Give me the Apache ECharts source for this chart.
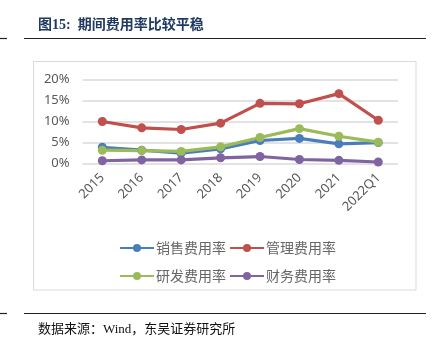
<!DOCTYPE html>
<html><head><meta charset="utf-8">
<script src="https://cdn.jsdelivr.net/npm/echarts@6/dist/echarts.min.js"></script>
<style>html,body{margin:0;padding:0;background:#fff}#c{width:438px;height:340px}</style>
</head><body><div id="c"></div>
<script>
const categories = ['2015','2016','2017','2018','2019','2020','2021','2022Q1'];
const seriesNames = ['销售费用率','管理费用率','研发费用率','财务费用率'];
const sales = [3.9, 3.2, 2.5, 3.5, 5.5, 6.0, 4.7, 5.0];
const admin = [10.0, 8.5, 8.1, 9.6, 14.3, 14.2, 16.6, 10.3];
const rnd = [3.2, 3.1, 2.9, 4.0, 6.2, 8.3, 6.5, 5.1];
const fin = [0.7, 0.9, 0.9, 1.4, 1.7, 1.0, 0.8, 0.4];
const yTicks = [0, 5, 10, 15, 20];
const colors = ['#4a7ebb', '#c0504d', '#9bbb59', '#8064a2'];

const chart = echarts.init(document.getElementById('c'), null, {renderer: 'canvas'});
const mk = (name, data, color) => ({
  name, type: 'line', data, color,
  symbol: 'circle', symbolSize: 9,
  lineStyle: {width: 3.2, color},
  itemStyle: {color},
  z: 3
});
const legendBase = {
  itemWidth: 34, itemHeight: 10, itemGap: 3,
  textStyle: {fontSize: 14, color: '#666', fontFamily: 'Noto Sans CJK SC', padding: [0,0,0,-3]},
  left: 114, orient: 'horizontal'
};
chart.setOption({
  animation: false,
  backgroundColor: '#fff',
  title: [
    {text: '图15:  期间费用率比较平稳', left: 33, top: 13,
     textStyle: {fontSize: 14, fontWeight: 'bold', color: '#1f3a60', fontFamily: '"Liberation Serif","Noto Sans CJK SC"'}},
    {text: '数据来源：Wind，东吴证券研究所', left: 33, top: 318,
     textStyle: {fontSize: 13, fontWeight: 'normal', color: '#111', fontFamily: '"Liberation Serif","Noto Sans CJK SC"'}}
  ],
  graphic: [
    {type: 'line', shape: {x1: 24, y1: 38.5, x2: 426, y2: 38.5}, style: {stroke: '#222', lineWidth: 1.2}},
    {type: 'line', shape: {x1: 0, y1: 38.5, x2: 7, y2: 38.5}, style: {stroke: '#222', lineWidth: 1.2}},
    {type: 'line', shape: {x1: 24, y1: 313.5, x2: 426, y2: 313.5}, style: {stroke: '#222', lineWidth: 1.2}},
    {type: 'line', shape: {x1: 0, y1: 313.5, x2: 7, y2: 313.5}, style: {stroke: '#222', lineWidth: 1.2}},
    {type: 'rect', shape: {x: 33.5, y: 61.5, width: 382.5, height: 228.5}, style: {fill: 'none', stroke: '#d9d9d9', lineWidth: 1}, z: -1}
  ],
  legend: [
    Object.assign({}, legendBase, {top: 236, data: [seriesNames[0], seriesNames[1]]}),
    Object.assign({}, legendBase, {top: 264, data: [seriesNames[2], seriesNames[3]]})
  ],
  grid: {left: 82.6, right: 40, top: 79.3, bottom: 176.3, containLabel: false},
  xAxis: {
    type: 'category', data: categories, boundaryGap: true,
    axisLine: {show: false}, axisTick: {show: false},
    axisLabel: {rotate: 45, fontSize: 13, color: '#595959', fontFamily: 'Noto Sans', margin: 12, interval: 0}
  },
  yAxis: {
    type: 'value', min: yTicks[0], max: yTicks[yTicks.length-1], interval: 5,
    axisLine: {show: false}, axisTick: {show: false},
    axisLabel: {formatter: v => v + '%', fontSize: 13, color: '#595959', fontFamily: 'Noto Sans', margin: 13},
    splitLine: {lineStyle: {color: '#d9d9d9', width: 1.5}}
  },
  series: [
    mk(seriesNames[0], sales, colors[0]),
    mk(seriesNames[1], admin, colors[1]),
    mk(seriesNames[2], rnd, colors[2]),
    mk(seriesNames[3], fin, colors[3])
  ]
});
</script></body></html>
